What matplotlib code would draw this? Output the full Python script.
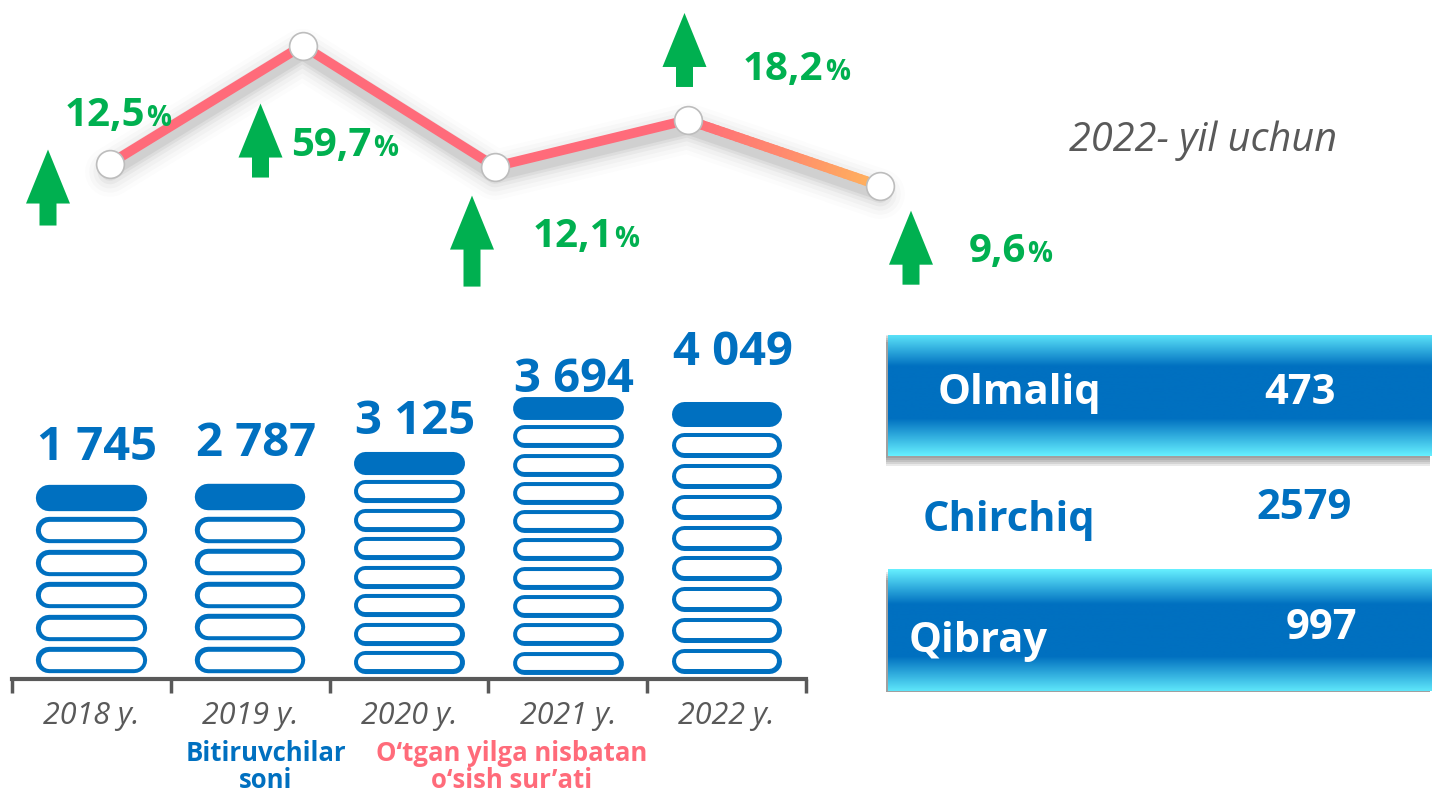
import numpy as np
import matplotlib
matplotlib.use("Agg")
import matplotlib.pyplot as plt
import matplotlib.transforms as mtransforms
from matplotlib.colors import LinearSegmentedColormap
from matplotlib.collections import LineCollection
from matplotlib.patches import Polygon, Rectangle

plt.rcParams["font.family"] = ["Open Sans", "DejaVu Sans"]

# --- data -------------------------------------------------------------
years = ["2018 y.", "2019 y.", "2020 y.", "2021 y.", "2022 y."]
graduates = [1745, 2787, 3125, 3694, 4049]
growth = [12.5, 59.7, 12.1, 18.2, 9.6]          # % vs previous year
tiers = [6, 6, 8, 10, 9]                          # pictogram tiers per column
districts = ["Olmaliq", "Chirchiq", "Qibray"]
district_vals = [473, 2579, 997]

# --- style ------------------------------------------------------------
BLUE = "#0070C0"
PINK = "#FF6B7A"
ORANGE = "#FFB45C"
GREEN = "#00B050"
GREY = "#595959"
CYAN = "#66F0FF"

W, H = 1432, 796
tier_pitch = [1.10, 1.105, 0.966, 0.959, 1.047]   # tier spacing per column
label_lift = [25, 28, 17, 5, 36]                   # px above top tier
arrow_off = [(-62, -14), (-42, 58), (-23, 29), (-3, -107), (31, 25)]
arrow_shaft = [22, 20, 37, 20, 20]
pct_off = [(35, -38), (69, 110), (118, 80), (136, -40), (146, 76)]
panel_rows = [0, 2]
name_x = [0.105, 0.078, 0.051]
name_dy = [0.0, 0.06, 0.08]
val_x = [0.761, 0.768, 0.799]
val_dy = [0.0, -0.04, -0.03]

PX = 0.72  # px -> pt at dpi 100


def box(x0, y0, x1, y1):
    """pixel box (top-left origin) -> figure fraction rect"""
    return [x0 / W, 1 - y1 / H, (x1 - x0) / W, (y1 - y0) / H]


def fwd(v):
    v = np.asarray(v, dtype=float)
    return np.where(v <= 20, v, 20 + (v - 20) * 0.2)


def inv(u):
    u = np.asarray(u, dtype=float)
    return np.where(u <= 20, u, 20 + (u - 20) / 0.2)


def draw_line(fig):
    ax = fig.add_axes(box(0, 0, W, 300))
    ax.set_axis_off()
    ax.set_yscale("function", functions=(fwd, inv))
    x = np.arange(len(growth))

    # soft drop shadow
    sh = ax.transData + mtransforms.ScaledTranslation(0, -6 / 72, fig.dpi_scale_trans)
    for lw, a in [(36, 0.012), (30, 0.018), (24, 0.025), (18, 0.035), (13, 0.045), (9, 0.055)]:
        ax.plot(x, growth, color="black", lw=lw, alpha=a, transform=sh,
                solid_capstyle="round", solid_joinstyle="round", zorder=1)

    ax.plot(x[:4], growth[:4], color=PINK, lw=7, solid_joinstyle="round", zorder=2)
    # last segment fades pink -> orange
    t = np.linspace(0, 1, 40)
    pts = np.column_stack([x[3] + (x[4] - x[3]) * t,
                           growth[3] + (growth[4] - growth[3]) * t]).reshape(-1, 1, 2)
    segs = np.concatenate([pts[:-1], pts[1:]], axis=1)
    cm = LinearSegmentedColormap.from_list("pk", [PINK, "#FF8A6E", ORANGE])
    ax.add_collection(LineCollection(segs, colors=cm(t[:-1]), linewidths=7,
                                     capstyle="round", zorder=2))

    ax.plot(x, growth, "o", ms=20, mfc="white", mec="#BDBDBD", mew=1.2, zorder=5)

    for i, (xi, gi) in enumerate(zip(x, growth)):
        dx, dy = arrow_off[i]
        s = arrow_shaft[i]
        verts = [(0, 0), (-22, -54), (-8.5, -54), (-8.5, -54 - s),
                 (8.5, -54 - s), (8.5, -54), (22, -54)]
        tr = (mtransforms.Affine2D().translate(dx, -dy)
              + mtransforms.ScaledTranslation(xi, gi, ax.transData))
        ax.add_patch(Polygon(verts, closed=True, color=GREEN, lw=0,
                             transform=tr, clip_on=False, zorder=4))

        px, py = pct_off[i]
        ax.annotate(f"{gi:.1f}".replace(".", ","), (xi, gi),
                    xytext=(px * PX, -py * PX), textcoords="offset points",
                    ha="right", va="baseline", color=GREEN,
                    fontsize=29, fontweight="bold", annotation_clip=False)
        ax.annotate("%", (xi, gi), xytext=(px * PX + 1, -py * PX),
                    textcoords="offset points", ha="left", va="baseline",
                    color=GREEN, fontsize=20, fontweight="bold",
                    annotation_clip=False)

    ax.set_xlim(-110 / 192.5, (W - 110) / 192.5)
    ax.set_ylim(-5.36, 89.5)


def draw_bars(fig):
    ax = fig.add_axes(box(12, 300, 806, 679))
    base = 29.5  # px per tier unit
    ax.set_xlim(-0.5, 4.5)
    ax.set_ylim(0, 379 / base)
    upx = 794 / 5  # px per column
    half_w = 55.3

    for i, (n, f) in enumerate(zip(tiers, tier_pitch)):
        h = 0.81 * base * f
        r = h / 2
        x0, x1 = i - (half_w - r) / upx, i + (half_w - r) / upx
        for k in range(n):
            yc = (k + 0.58) * f
            ax.plot([x0, x1], [yc, yc], color=BLUE, lw=h * PX,
                    solid_capstyle="round", zorder=3)
            if k < n - 1:
                ax.plot([x0, x1], [yc, yc], color="white", lw=(h - 9) * PX,
                        solid_capstyle="round", zorder=4)
        top = (n - 1 + 0.58) * f + 0.405 * f
        ax.annotate(f"{graduates[i]:,}".replace(",", " "), (i, top),
                    xytext=(6 * PX, label_lift[i] * PX), textcoords="offset points",
                    ha="center", va="baseline", color=BLUE, fontsize=34,
                    fontweight="bold", annotation_clip=False)

    for s in ["top", "left", "right"]:
        ax.spines[s].set_visible(False)
    ax.spines["bottom"].set_color(GREY)
    ax.spines["bottom"].set_linewidth(3)
    ax.set_yticks([])
    ax.set_xticks(np.arange(-0.5, 5, 1))
    ax.set_xticklabels([])
    ax.tick_params(axis="x", which="major", length=10, width=2.5, color=GREY,
                   direction="out")
    ax.set_xticks(np.arange(len(years)), minor=True)
    ax.set_xticklabels(years, minor=True, fontsize=22, style="italic", color=GREY)
    ax.tick_params(axis="x", which="minor", length=0, pad=16)
    ax.patch.set_alpha(0)


def draw_panels(fig):
    ax = fig.add_axes(box(880, 334.5, W, 691.5))
    ax.set_axis_off()
    cm = LinearSegmentedColormap.from_list(
        "panel", [(0, CYAN), (0.28, BLUE), (0.7, BLUE), (1.0, CYAN)])
    grad = np.linspace(0, 1, 256).reshape(-1, 1)
    unit = 357 / 3  # px per row

    for r in panel_rows:
        x0, x1 = 8 / 552, 1.0
        yt, yb = r - 0.525, r + 0.525
        for k in range(1, 6):
            ax.add_patch(Rectangle((x0 - 2 / 552, yt + 2 * k / unit), x1 - x0, yb - yt,
                                   color="black", alpha=0.085, lw=0, zorder=1))
        ax.imshow(grad, cmap=cm, extent=(x0, x1, yb, yt), origin="upper",
                  aspect="auto", zorder=2)

    for i, (name, v) in enumerate(zip(districts, district_vals)):
        c = "white" if i in panel_rows else BLUE
        ax.text(name_x[i], i + name_dy[i], name, ha="left", va="center",
                color=c, fontsize=30, fontweight="bold", zorder=3)
        ax.text(val_x[i], i + val_dy[i], str(v), ha="center", va="center",
                color=c, fontsize=30, fontweight="bold", zorder=3)

    ax.set_xlim(0, 1)
    ax.set_ylim(2.5, -0.5)


def main():
    fig = plt.figure(figsize=(W / 100, H / 100), dpi=100)
    fig.patch.set_facecolor("white")

    draw_bars(fig)
    draw_line(fig)
    draw_panels(fig)

    fig.text(1069 / W, 1 - 150.7 / H, "2022- yil uchun", ha="left", va="baseline",
             fontsize=28.5, style="italic", color=GREY)
    fig.text(266 / W, 1 - 740 / H, "Bitiruvchilar\nsoni", ha="center", va="top",
             fontsize=18.5, fontweight="bold", color=BLUE, linespacing=1.0)
    fig.text(512 / W, 1 - 740 / H, "O\u2018tgan yilga nisbatan\no\u2018sish sur\u2019ati",
             ha="center", va="top", fontsize=18.5, fontweight="bold", color=PINK,
             linespacing=1.0)

    fig.savefig("out.png", dpi=100)


if __name__ == "__main__":
    main()
